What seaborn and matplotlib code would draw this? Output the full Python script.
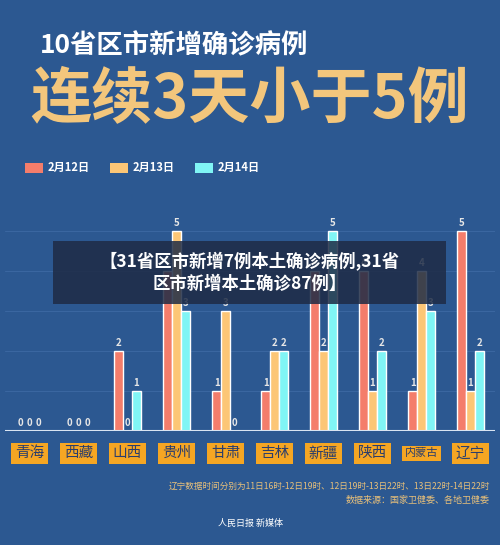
import matplotlib
matplotlib.use("Agg")
import matplotlib.pyplot as plt
import seaborn as sns
import pandas as pd
from matplotlib.patches import Rectangle

regions = ["青海", "西藏", "山西", "贵州", "甘肃", "吉林", "新疆", "陕西", "内蒙古", "辽宁"]
dates = ["2月12日", "2月13日", "2月14日"]
feb12 = [0, 0, 2, 4, 1, 1, 4, 4, 1, 5]
feb13 = [0, 0, 0, 5, 3, 2, 2, 1, 4, 1]
feb14 = [0, 0, 1, 3, 0, 2, 5, 2, 3, 2]

rows = []
for d, vals in zip(dates, [feb12, feb13, feb14]):
    for r, v in zip(regions, vals):
        rows.append({"region": r, "date": d, "value": v})
df = pd.DataFrame(rows)

sns.set_style("white")
plt.rcParams['font.family'] = ['Noto Sans CJK SC', 'DejaVu Sans']
BG = "#2c5891"
colors = ["#f47d6b", "#fcc676", "#80f5f5"]

fig = plt.figure(figsize=(5, 5.45), dpi=100, facecolor=BG)
ax = fig.add_axes([0.01, 0.209, 0.98, 0.404])
ax.set_facecolor(BG)
sns.barplot(data=df, x="region", y="value", hue="date", palette=colors,
            ax=ax, width=0.54, legend=False, saturation=1)
ax.set_ylim(0, 5.5)
ax.set_xlim(-0.5, 9.5)
for y in [1, 2, 3, 4, 5]:
    ax.axhline(y, color="#3a66a0", lw=0.8, zorder=0)
ax.axhline(0, color="#d8e4f2", lw=1.5)
for c in ax.containers:
    ax.bar_label(c, fmt="%d", color="#e6e6e6", fontsize=7, padding=2, fontweight="bold")
for s in ax.spines.values():
    s.set_visible(False)
ax.set_xticks([]); ax.set_yticks([])
ax.set_xlabel(""); ax.set_ylabel("")

for i, r in enumerate(regions):
    ax.annotate(r, xy=(i, 0), xycoords="data", xytext=(0, -16), textcoords="offset points",
                ha="center", va="center", fontsize=8 if len(r) > 2 else 10.5, color="#2c3e6b",
                bbox=dict(boxstyle="square,pad=0.25", fc="#f5a623", ec="none"),
                annotation_clip=False)

fig.text(0.08, 0.915, "10省区市新增确诊病例", color="white", fontsize=19, fontweight="bold", va="center")
fig.text(0.06, 0.815, "连续3天小于5例", color="#f3c67c", fontsize=44, fontweight="bold", va="center")

lx = [0.05, 0.22, 0.39]
for x, d, c in zip(lx, dates, colors):
    fig.patches.append(Rectangle((x, 0.683), 0.035, 0.018, transform=fig.transFigure, fc=c, ec="none"))
    fig.text(x + 0.045, 0.692, d, color="white", fontsize=8, va="center", fontweight="bold")

fig.patches.append(Rectangle((0.106, 0.443), 0.786, 0.115, transform=fig.transFigure,
                             fc="#1e2b45", ec="none", alpha=0.85, zorder=5))
fig.text(0.5, 0.5, "【31省区市新增7例本土确诊病例,31省\n区市新增本土确诊87例】", color="white",
         fontsize=12.5, fontweight="bold", ha="center", va="center", linespacing=1.25, zorder=6)

fig.text(0.98, 0.108, "辽宁数据时间分别为11日16时-12日19时、12日19时-13日22时、13日22时-14日22时",
         color="#e8c07a", fontsize=6.2, ha="right", va="center")
fig.text(0.98, 0.082, "数据来源：国家卫健委、各地卫健委", color="#e8c07a", fontsize=6.5, ha="right", va="center")
fig.text(0.5, 0.04, "人民日报 新媒体", color="white", fontsize=6.5, ha="center", va="center")

fig.savefig("out.png", dpi=100, facecolor=BG)
